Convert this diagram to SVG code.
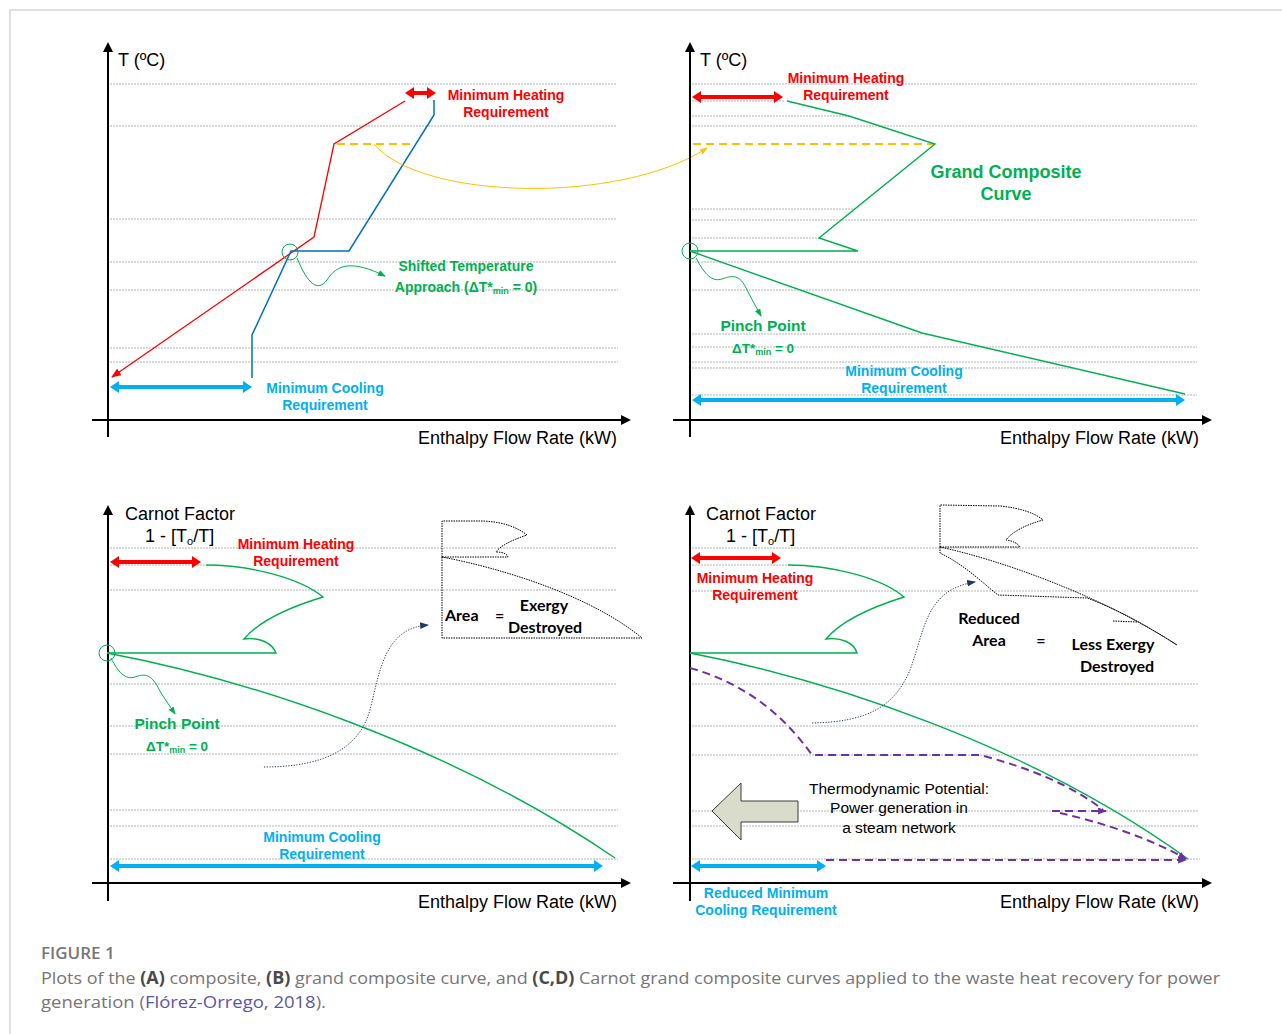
<svg xmlns="http://www.w3.org/2000/svg" width="1282" height="1034" viewBox="0 0 1282 1034">
<defs>
<style>
.grid{stroke:#b4b4b4;stroke-width:1;stroke-dasharray:2,1;fill:none}
.axis{stroke:#000;stroke-width:2;fill:none}
.ax{font-family:"Liberation Sans",Arial,sans-serif;font-size:18px;fill:#000}
.b14{font-family:"Liberation Sans",Arial,sans-serif;font-size:14px;font-weight:bold;text-anchor:middle}
.red{fill:#ff0000}.grn{fill:#00b050}.blu{fill:#00b0f0}
.g{stroke:#00b050;stroke-width:1.4;fill:none}
.gt{stroke:#00b050;stroke-width:1;fill:none}
.ins{stroke:#000;stroke-width:1;stroke-dasharray:1.5,1;fill:none}
.nav{stroke:#1f3864;stroke-width:1;stroke-dasharray:1.2,1.5;fill:none}
.pur{stroke:#7030a0;stroke-width:2;stroke-dasharray:8,5;fill:none}
.cal{font-family:Lato,"Liberation Sans",sans-serif;font-size:16px;font-weight:bold;fill:#000}
.reg{font-family:"Liberation Sans",Arial,sans-serif;font-size:15.5px;fill:#000;text-anchor:middle}
.hot{stroke:#ff0000;stroke-width:4}
.cold{stroke:#00b0f0;stroke-width:4}
.cap{font-family:"Open Sans","Liberation Sans",sans-serif;font-size:17px;fill:#767676}
</style>
<marker id="mAx" viewBox="0 0 10 10" refX="3" refY="5" markerWidth="10" markerHeight="10" markerUnits="userSpaceOnUse" orient="auto"><path d="M0,0 L10,5 L0,10 z" fill="#000"/></marker>
<marker id="mHot" viewBox="0 0 9 12" refX="0" refY="6" markerWidth="9" markerHeight="12" markerUnits="userSpaceOnUse" orient="auto-start-reverse"><path d="M0,0 L9,6 L0,12 z" fill="#ff0000"/></marker>
<marker id="mCold" viewBox="0 0 9 12" refX="0" refY="6" markerWidth="9" markerHeight="12" markerUnits="userSpaceOnUse" orient="auto-start-reverse"><path d="M0,0 L9,6 L0,12 z" fill="#00b0f0"/></marker>
<marker id="mRed" viewBox="0 0 10 8" refX="9" refY="4" markerWidth="10" markerHeight="8" markerUnits="userSpaceOnUse" orient="auto"><path d="M0,0 L10,4 L0,8 z" fill="#ff0000"/></marker>
<marker id="mGrn" viewBox="0 0 8 6" refX="7" refY="3" markerWidth="8" markerHeight="6" markerUnits="userSpaceOnUse" orient="auto"><path d="M0,0 L8,3 L0,6 z" fill="#00b050"/></marker>
<marker id="mYel" viewBox="0 0 8 6" refX="7" refY="3" markerWidth="8" markerHeight="6" markerUnits="userSpaceOnUse" orient="auto"><path d="M0,0 L8,3 L0,6 z" fill="#ffc000"/></marker>
<marker id="mNav" viewBox="0 0 8 6" refX="7" refY="3" markerWidth="9" markerHeight="7" markerUnits="userSpaceOnUse" orient="auto"><path d="M0,0 L8,3 L0,6 z" fill="#1f3864"/></marker>
<marker id="mPur" viewBox="0 0 10 8" refX="9" refY="4" markerWidth="9" markerHeight="7" markerUnits="userSpaceOnUse" orient="auto"><path d="M0,0 L10,4 L0,8 z" fill="#7030a0"/></marker>
</defs>

<rect x="0" y="0" width="1282" height="1034" fill="#fff"/>
<path d="M10,1034 L10,10 L1282,10" stroke="#d6d6d6" stroke-width="1.5" fill="none"/>

<!-- Panel A -->
<g id="panelA">
<g id="gridA">
<line class="grid" x1="110" y1="84" x2="616" y2="84"/>
<line class="grid" x1="110" y1="126" x2="616" y2="126"/>
<line class="grid" x1="110" y1="219" x2="616" y2="219"/>
<line class="grid" x1="110" y1="262" x2="616" y2="262"/>
<line class="grid" x1="110" y1="290" x2="618" y2="290"/>
<line class="grid" x1="110" y1="348" x2="618" y2="348"/>
<line class="grid" x1="110" y1="362" x2="618" y2="362"/>
</g>
<line class="axis" x1="108" y1="437" x2="108" y2="49" marker-end="url(#mAx)"/>
<line class="axis" x1="92" y1="420" x2="624" y2="420" marker-end="url(#mAx)"/>
<text class="ax" x="118" y="66">T (ºC)</text>
<text class="ax" x="418" y="444">Enthalpy Flow Rate (kW)</text>
<g id="hotCompositeA"><polyline points="405,101 334,144 314,237 112,377" fill="none" stroke="#ff0000" stroke-width="1.3" marker-end="url(#mRed)"/></g>
<g id="coldCompositeA"><polyline points="434,100 434,115 349,251 291,251 252,335 252,378" fill="none" stroke="#0070c0" stroke-width="1.5"/></g>
<line x1="337" y1="144" x2="415" y2="144" stroke="#ffc000" stroke-width="2" stroke-dasharray="8,5"/>
<g id="heatA"><line class="hot" x1="414" y1="93" x2="427" y2="93" marker-start="url(#mHot)" marker-end="url(#mHot)"/>
<text class="b14 red" x="506" y="100">Minimum Heating</text><text class="b14 red" x="506" y="117">Requirement</text></g>
<g id="coolA"><line class="cold" x1="119" y1="387" x2="243" y2="387" marker-start="url(#mCold)" marker-end="url(#mCold)"/>
<text class="b14 blu" x="325" y="393">Minimum Cooling</text><text class="b14 blu" x="325" y="410">Requirement</text></g>
<g id="pinchA"><circle cx="290" cy="252" r="8" class="gt"/>
<path class="gt" d="M297,258 C308,285 318,292 327,280 C337,264 352,260 385,276" marker-end="url(#mGrn)"/>
<text class="b14 grn" x="466" y="271">Shifted Temperature</text>
<text class="b14 grn" x="466" y="292">Approach (ΔT*<tspan font-size="9" dy="2">min</tspan><tspan dy="-2"> = 0)</tspan></text></g>
</g>

<!-- connector from A to B -->
<g id="connectors">
<path d="M374,144 C420,200 620,205 707,148" fill="none" stroke="#ffc000" stroke-width="1" marker-end="url(#mYel)"/>
</g>

<!-- Panel B -->
<g id="panelB">
<g id="gridB">
<line class="grid" x1="692" y1="84" x2="1197" y2="84"/>
<line class="grid" x1="692" y1="101" x2="784" y2="101"/>
<line class="grid" x1="692" y1="116" x2="849" y2="116"/>
<line class="grid" x1="692" y1="126" x2="1197" y2="126"/>
<line class="grid" x1="692" y1="209" x2="855" y2="209"/>
<line class="grid" x1="692" y1="220" x2="1197" y2="220"/>
<line class="grid" x1="692" y1="238" x2="820" y2="238"/>
<line class="grid" x1="692" y1="262" x2="1197" y2="262"/>
<line class="grid" x1="692" y1="290" x2="1200" y2="290"/>
<line class="grid" x1="692" y1="334" x2="922" y2="334"/>
<line class="grid" x1="692" y1="347" x2="1197" y2="347"/>
<line class="grid" x1="692" y1="362" x2="1197" y2="362"/>
<line class="grid" x1="692" y1="368" x2="1073" y2="368"/>
<line class="grid" x1="692" y1="395" x2="1197" y2="395"/>
</g>
<line class="axis" x1="690" y1="437" x2="690" y2="49" marker-end="url(#mAx)"/>
<line class="axis" x1="673" y1="420" x2="1205" y2="420" marker-end="url(#mAx)"/>
<text class="ax" x="700" y="66">T (ºC)</text>
<text class="ax" x="1000" y="444">Enthalpy Flow Rate (kW)</text>
<line x1="693" y1="144" x2="935" y2="144" stroke="#ffc000" stroke-width="2" stroke-dasharray="8,5"/>
<g id="gccB"><polyline class="g" points="787,101 849,116 935,144 819,238 858,251 690,251"/>
<polyline class="g" points="690,251 922,333 1185,394"/>
<text x="1006" y="178" class="b14 grn" style="font-size:18px">Grand Composite</text>
<text x="1006" y="200" class="b14 grn" style="font-size:18px">Curve</text></g>
<g id="heatB"><line class="hot" x1="701" y1="97" x2="774" y2="97" marker-start="url(#mHot)" marker-end="url(#mHot)"/>
<text class="b14 red" x="846" y="83">Minimum Heating</text><text class="b14 red" x="846" y="100">Requirement</text></g>
<g id="coolB"><line class="cold" x1="701" y1="400" x2="1176" y2="400" marker-start="url(#mCold)" marker-end="url(#mCold)"/>
<text class="b14 blu" x="904" y="376">Minimum Cooling</text><text class="b14 blu" x="904" y="393">Requirement</text></g>
<g id="pinchB"><circle cx="690" cy="251" r="8" class="gt"/>
<path class="gt" d="M696,258 C705,275 712,282 722,279 C735,274 741,276 748,292 L761,316" marker-end="url(#mGrn)"/>
<text class="b14 grn" x="763" y="331" style="font-size:15.5px">Pinch Point</text>
<text class="b14 grn" x="763" y="353" style="font-size:13.5px">ΔT*<tspan font-size="9" dy="2">min</tspan><tspan dy="-2"> = 0</tspan></text></g>
</g>

<!-- Panel C -->
<g id="panelC">
<g id="gridC">
<line class="grid" x1="110" y1="548" x2="616" y2="548"/>
<line class="grid" x1="110" y1="565" x2="205" y2="565"/>
<line class="grid" x1="110" y1="590" x2="616" y2="590"/>
<line class="grid" x1="110" y1="684" x2="616" y2="684"/>
<line class="grid" x1="110" y1="726" x2="616" y2="726"/>
<line class="grid" x1="110" y1="754" x2="618" y2="754"/>
<line class="grid" x1="110" y1="810" x2="618" y2="810"/>
<line class="grid" x1="110" y1="826" x2="618" y2="826"/>
<line class="grid" x1="110" y1="859" x2="618" y2="859"/>
</g>
<line class="axis" x1="108" y1="901" x2="108" y2="512" marker-end="url(#mAx)"/>
<line class="axis" x1="92" y1="883" x2="624" y2="883" marker-end="url(#mAx)"/>
<text class="ax" x="125" y="520">Carnot Factor</text>
<text class="ax" x="145" y="542">1 - [T<tspan font-size="11" dy="3">o</tspan><tspan dy="-3">/T]</tspan></text>
<text class="ax" x="418" y="908">Enthalpy Flow Rate (kW)</text>
<g id="cgccC"><path class="g" d="M206,565 C250,565 300,578 323,597 C290,607 260,620 244,639 C260,637 272,643 276,653 L107,653"/>
<path class="g" d="M107,653 C250,680 450,745 615,858"/></g>
<g id="heatC"><line class="hot" x1="119" y1="562" x2="192" y2="562" marker-start="url(#mHot)" marker-end="url(#mHot)"/>
<text class="b14 red" x="296" y="549">Minimum Heating</text><text class="b14 red" x="296" y="566">Requirement</text></g>
<g id="coolC"><line class="cold" x1="119" y1="866" x2="594" y2="866" marker-start="url(#mCold)" marker-end="url(#mCold)"/>
<text class="b14 blu" x="322" y="842">Minimum Cooling</text><text class="b14 blu" x="322" y="859">Requirement</text></g>
<g id="pinchC"><circle cx="107" cy="653" r="8" class="gt"/>
<path class="gt" d="M111,658 C118,672 125,680 135,677 C148,672 153,677 161,693 L175,714" marker-end="url(#mGrn)"/>
<text class="b14 grn" x="177" y="729" style="font-size:15.5px">Pinch Point</text>
<text class="b14 grn" x="177" y="751" style="font-size:13.5px">ΔT*<tspan font-size="9" dy="2">min</tspan><tspan dy="-2"> = 0</tspan></text></g>
<g id="insetC">
<path class="ins" d="M442,557 L442,521 L483,521 C505,522 518,528 527,535 C512,540 500,546 496,552 C503,552 507,554 508,557 Z"/>
<path class="ins" d="M442,557 L442,638 L642,638 C590,595 500,568 442,557"/>
<text class="cal" x="445" y="621">Area</text>
<text class="cal" x="495" y="621">=</text>
<text class="cal" x="544" y="611" text-anchor="middle">Exergy</text>
<text class="cal" x="545" y="633" text-anchor="middle">Destroyed</text>
</g>
<path class="nav" d="M264,767 C330,767 360,745 370,710 C380,670 385,628 428,625" marker-end="url(#mNav)"/>
</g>

<!-- Panel D -->
<g id="panelD">
<g id="gridD">
<line class="grid" x1="692" y1="548" x2="1198" y2="548"/>
<line class="grid" x1="692" y1="565" x2="787" y2="565"/>
<line class="grid" x1="692" y1="591" x2="1198" y2="591"/>
<line class="grid" x1="692" y1="684" x2="1198" y2="684"/>
<line class="grid" x1="692" y1="726" x2="1198" y2="726"/>
<line class="grid" x1="692" y1="755" x2="1198" y2="755"/>
<line class="grid" x1="692" y1="811" x2="1198" y2="811"/>
<line class="grid" x1="692" y1="826" x2="1198" y2="826"/>
<line class="grid" x1="692" y1="859" x2="1200" y2="859"/>
</g>
<line class="axis" x1="690" y1="901" x2="690" y2="512" marker-end="url(#mAx)"/>
<line class="axis" x1="673" y1="883" x2="1205" y2="883" marker-end="url(#mAx)"/>
<text class="ax" x="706" y="520">Carnot Factor</text>
<text class="ax" x="726" y="542">1 - [T<tspan font-size="11" dy="3">o</tspan><tspan dy="-3">/T]</tspan></text>
<text class="ax" x="1000" y="908">Enthalpy Flow Rate (kW)</text>
<g id="cgccD"><path class="g" d="M788,565 C832,565 882,578 904,597 C872,607 842,620 826,639 C842,637 854,643 857,653 L690,653"/>
<path class="g" d="M690,653 C830,680 1030,745 1188,859"/></g>
<g id="steamD">
<path class="pur" d="M690,668 C740,682 780,710 812,755 L980,755 C1030,768 1075,787 1103,810"/>
<line class="pur" x1="1052" y1="811" x2="1106" y2="811" marker-end="url(#mPur)"/>
<path class="pur" d="M1060,813 C1100,822 1150,838 1186,859" marker-end="url(#mPur)"/>
<line class="pur" x1="826" y1="860" x2="1186" y2="860" marker-end="url(#mPur)"/>
</g>
<g id="heatD"><line class="hot" x1="700" y1="558" x2="772" y2="558" marker-start="url(#mHot)" marker-end="url(#mHot)"/>
<text class="b14 red" x="755" y="583">Minimum Heating</text><text class="b14 red" x="755" y="600">Requirement</text></g>
<g id="coolD"><line class="cold" x1="700" y1="866" x2="817" y2="866" marker-start="url(#mCold)" marker-end="url(#mCold)"/>
<text class="b14 blu" x="766" y="898">Reduced Minimum</text><text class="b14 blu" x="766" y="915">Cooling Requirement</text></g>
<g id="bigArrowD"><polygon points="712,811 741,783 741,801 798,801 798,822 741,822 741,840" fill="#d9dccb" stroke="#3a3a3a" stroke-width="1"/></g>
<g id="potentialD">
<text class="reg" x="899" y="794">Thermodynamic Potential:</text>
<text class="reg" x="899" y="813">Power generation in</text>
<text class="reg" x="899" y="833">a steam network</text>
</g>
<g id="insetD">
<path class="ins" d="M940,547 L940,505 L1000,506 C1020,508 1035,513 1043,520 C1025,525 1012,532 1006,540 C1014,541 1018,544 1020,547 Z"/>
<path class="ins" d="M940,547 C1000,560 1100,595 1177,645"/>
<path class="ins" d="M940,547 L940,553 C965,565 985,585 998,595 L1087,598 C1120,610 1150,628 1177,645"/>
<path class="ins" d="M1113,621 L1137,622"/>
<text class="cal" x="989" y="624" text-anchor="middle">Reduced</text>
<text class="cal" x="989" y="646" text-anchor="middle">Area</text>
<text class="cal" x="1041" y="646" text-anchor="middle">=</text>
<text class="cal" x="1113" y="650" text-anchor="middle">Less Exergy</text>
<text class="cal" x="1117" y="672" text-anchor="middle">Destroyed</text>
</g>
<path class="nav" d="M812,723 C870,722 895,705 910,670 C925,630 925,590 975,582" marker-end="url(#mNav)"/>
</g>

<!-- Caption -->
<g id="caption">
<text class="cap" x="41" y="959" font-weight="600" fill="#6a6a6a">FIGURE 1</text>
<text class="cap" x="41" y="984" textLength="1179" lengthAdjust="spacingAndGlyphs">Plots of the <tspan font-weight="bold" fill="#4a4a4a">(A)</tspan> composite, <tspan font-weight="bold" fill="#4a4a4a">(B)</tspan> grand composite curve, and <tspan font-weight="bold" fill="#4a4a4a">(C,D)</tspan> Carnot grand composite curves applied to the waste heat recovery for power</text>
<text class="cap" x="41" y="1008" textLength="285" lengthAdjust="spacingAndGlyphs">generation (<tspan fill="#5b55a8">Flórez-Orrego, 2018</tspan>).</text>
</g>
</svg>
